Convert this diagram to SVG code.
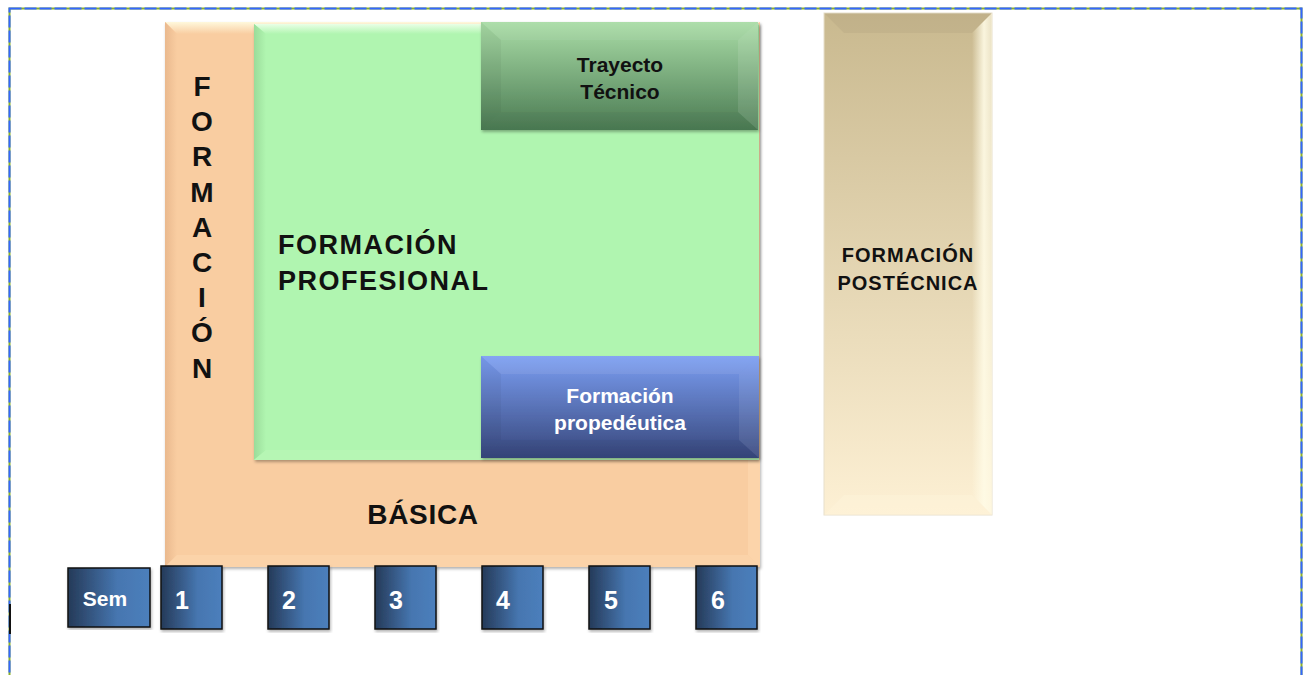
<svg xmlns="http://www.w3.org/2000/svg" width="1304" height="675" viewBox="0 0 1304 675">
<style>
.t{font-family:"Liberation Sans",Arial,sans-serif;font-weight:bold}
.blk{fill:#111}
.wht{fill:#fff}
.sq{stroke:#111;stroke-width:1.5}
</style>
<defs>
<linearGradient id="gTray" x1="0" y1="0" x2="0" y2="1">
<stop offset="0" stop-color="#a9dca6"/><stop offset="1" stop-color="#4b7b53"/>
</linearGradient>
<linearGradient id="gProp" x1="0" y1="0" x2="0" y2="1">
<stop offset="0" stop-color="#7b9ef2"/><stop offset="1" stop-color="#37477c"/>
</linearGradient>
<linearGradient id="gPost" x1="0" y1="0" x2="0" y2="1">
<stop offset="0" stop-color="#c9b98f"/><stop offset="1" stop-color="#fdf0d4"/>
</linearGradient>
<linearGradient id="gSq" x1="0" y1="0" x2="1" y2="0">
<stop offset="0" stop-color="#253a58"/><stop offset="0.6" stop-color="#4676b0"/><stop offset="1" stop-color="#4c7fbc"/>
</linearGradient>
<linearGradient id="gTopOr" x1="0" y1="0" x2="0" y2="1">
<stop offset="0" stop-color="#fff8dc"/><stop offset="1" stop-color="#f9cda1"/>
</linearGradient>
<linearGradient id="gTopGr" x1="0" y1="0" x2="0" y2="1">
<stop offset="0" stop-color="#eaffe6"/><stop offset="1" stop-color="#b0f5b0"/>
</linearGradient>
<linearGradient id="gLeftOr" x1="0" y1="0" x2="1" y2="0">
<stop offset="0" stop-color="#eab98e"/><stop offset="1" stop-color="#f9cda1"/>
</linearGradient>
<linearGradient id="gLeftGr" x1="0" y1="0" x2="1" y2="0">
<stop offset="0" stop-color="#9adc9a"/><stop offset="1" stop-color="#b0f5b0"/>
</linearGradient>
<linearGradient id="gRightPost" x1="0" y1="0" x2="1" y2="0">
<stop offset="0" stop-color="#fffbe6" stop-opacity="0"/><stop offset="0.6" stop-color="#fffbe6" stop-opacity="0.9"/><stop offset="1" stop-color="#fffbe6" stop-opacity="0.6"/>
</linearGradient>
<filter id="sh" x="-5%" y="-5%" width="110%" height="110%">
<feDropShadow dx="1" dy="2" stdDeviation="1.5" flood-color="#000" flood-opacity="0.3"/>
</filter>
</defs>

<rect x="0" y="0" width="1304" height="675" fill="#fff"/>

<!-- page border -->
<g id="border" fill="none">
<rect x="9.5" y="8.5" width="1292" height="720" stroke="#8ab028" stroke-width="2"/>
<rect x="9.5" y="8.5" width="1292" height="720" stroke="#3366ff" stroke-width="2" stroke-dasharray="12 3"/>
<rect x="9" y="604" width="2" height="30" fill="#111"/>
</g>

<!-- Formación básica (orange) -->
<g id="basica">
<rect x="165" y="22" width="595" height="545" fill="#f9cda1" filter="url(#sh)"/>
<polygon points="165,22 760,22 748,34 177,34" fill="url(#gTopOr)"/>
<polygon points="165,22 177,34 177,555 165,567" fill="url(#gLeftOr)"/>
<polygon points="760,22 748,34 748,555 760,567" fill="#fcd4aa"/>
<polygon points="165,567 177,555 748,555 760,567" fill="#fbd3a9"/>
<g class="t blk" font-size="28" text-anchor="middle">
<text x="202" y="96">F</text>
<text x="202" y="131">O</text>
<text x="202" y="166">R</text>
<text x="202" y="202">M</text>
<text x="202" y="237">A</text>
<text x="202" y="272">C</text>
<text x="202" y="307">I</text>
<text x="202" y="342">Ó</text>
<text x="202" y="378">N</text>
</g>
<text class="t blk" x="423" y="524" font-size="28" letter-spacing="0.7" text-anchor="middle">BÁSICA</text>
</g>

<!-- Formación profesional (green) -->
<g id="profesional">
<rect x="254" y="24" width="505" height="436" fill="#b0f5b0" filter="url(#sh)"/>
<polygon points="254,24 759,24 747,34 266,34" fill="url(#gTopGr)"/>
<polygon points="254,24 266,34 266,450 254,460" fill="url(#gLeftGr)"/>
<polygon points="254,460 266,450 747,450 759,460" fill="#b6f6b4"/>
<text class="t blk" font-size="27" letter-spacing="1.5"><tspan x="278" y="254">FORMACIÓN</tspan><tspan x="278" y="290">PROFESIONAL</tspan></text>
</g>

<!-- Trayecto técnico -->
<g id="trayecto">
<rect x="481" y="22" width="277" height="108" fill="url(#gTray)" filter="url(#sh)"/>
<polygon points="481,22 758,22 738,40 501,40" fill="#fff" opacity="0.06"/>
<polygon points="481,22 501,40 501,112 481,130" fill="#000" opacity="0.04"/>
<polygon points="758,22 738,40 738,112 758,130" fill="#fff" opacity="0.1"/>
<polygon points="481,130 501,112 738,112 758,130" fill="#000" opacity="0.03"/>
<text class="t blk" font-size="21" text-anchor="middle"><tspan x="620" y="72">Trayecto</tspan><tspan x="620" y="99">Técnico</tspan></text>
</g>

<!-- Formación propedéutica -->
<g id="propedeutica">
<rect x="481" y="356" width="278" height="102" fill="url(#gProp)" filter="url(#sh)"/>
<polygon points="481,356 759,356 739,374 501,374" fill="#fff" opacity="0.08"/>
<polygon points="481,356 501,374 501,440 481,458" fill="#000" opacity="0.04"/>
<polygon points="759,356 739,374 739,440 759,458" fill="#fff" opacity="0.08"/>
<polygon points="481,458 501,440 739,440 759,458" fill="#000" opacity="0.04"/>
<text class="t wht" font-size="21" text-anchor="middle"><tspan x="620" y="403">Formación</tspan><tspan x="620" y="430">propedéutica</tspan></text>
</g>

<!-- Formación postécnica -->
<g id="postecnica">
<rect x="824" y="13" width="168" height="502" fill="url(#gPost)" stroke="#e8e0cc" stroke-width="1"/>
<polygon points="824,13 992,13 972,33 844,33" fill="#000" opacity="0.04"/>
<polygon points="992,13 972,33 972,495 992,515" fill="url(#gRightPost)"/>
<polygon points="824,515 844,495 972,495 992,515" fill="#fff6dc" opacity="0.4"/>
<text class="t blk" font-size="20" letter-spacing="1" text-anchor="middle"><tspan x="908" y="262">FORMACIÓN</tspan><tspan x="908" y="290">POSTÉCNICA</tspan></text>
</g>

<!-- Semester boxes -->
<g id="sem">
<rect class="sq" x="68" y="568" width="82" height="59" fill="url(#gSq)" filter="url(#sh)"/>
<text class="t wht" x="105" y="606" font-size="21" text-anchor="middle">Sem</text>
</g>
<g id="s1"><rect class="sq" x="161" y="566" width="61" height="63" fill="url(#gSq)" filter="url(#sh)"/><text class="t wht" x="182" y="609" font-size="25" text-anchor="middle">1</text></g>
<g id="s2"><rect class="sq" x="268" y="566" width="61" height="63" fill="url(#gSq)" filter="url(#sh)"/><text class="t wht" x="289" y="609" font-size="25" text-anchor="middle">2</text></g>
<g id="s3"><rect class="sq" x="375" y="566" width="61" height="63" fill="url(#gSq)" filter="url(#sh)"/><text class="t wht" x="396" y="609" font-size="25" text-anchor="middle">3</text></g>
<g id="s4"><rect class="sq" x="482" y="566" width="61" height="63" fill="url(#gSq)" filter="url(#sh)"/><text class="t wht" x="503" y="609" font-size="25" text-anchor="middle">4</text></g>
<g id="s5"><rect class="sq" x="589" y="566" width="61" height="63" fill="url(#gSq)" filter="url(#sh)"/><text class="t wht" x="611" y="609" font-size="25" text-anchor="middle">5</text></g>
<g id="s6"><rect class="sq" x="696" y="566" width="61" height="63" fill="url(#gSq)" filter="url(#sh)"/><text class="t wht" x="718" y="609" font-size="25" text-anchor="middle">6</text></g>

<g id="connectors"/>
</svg>
